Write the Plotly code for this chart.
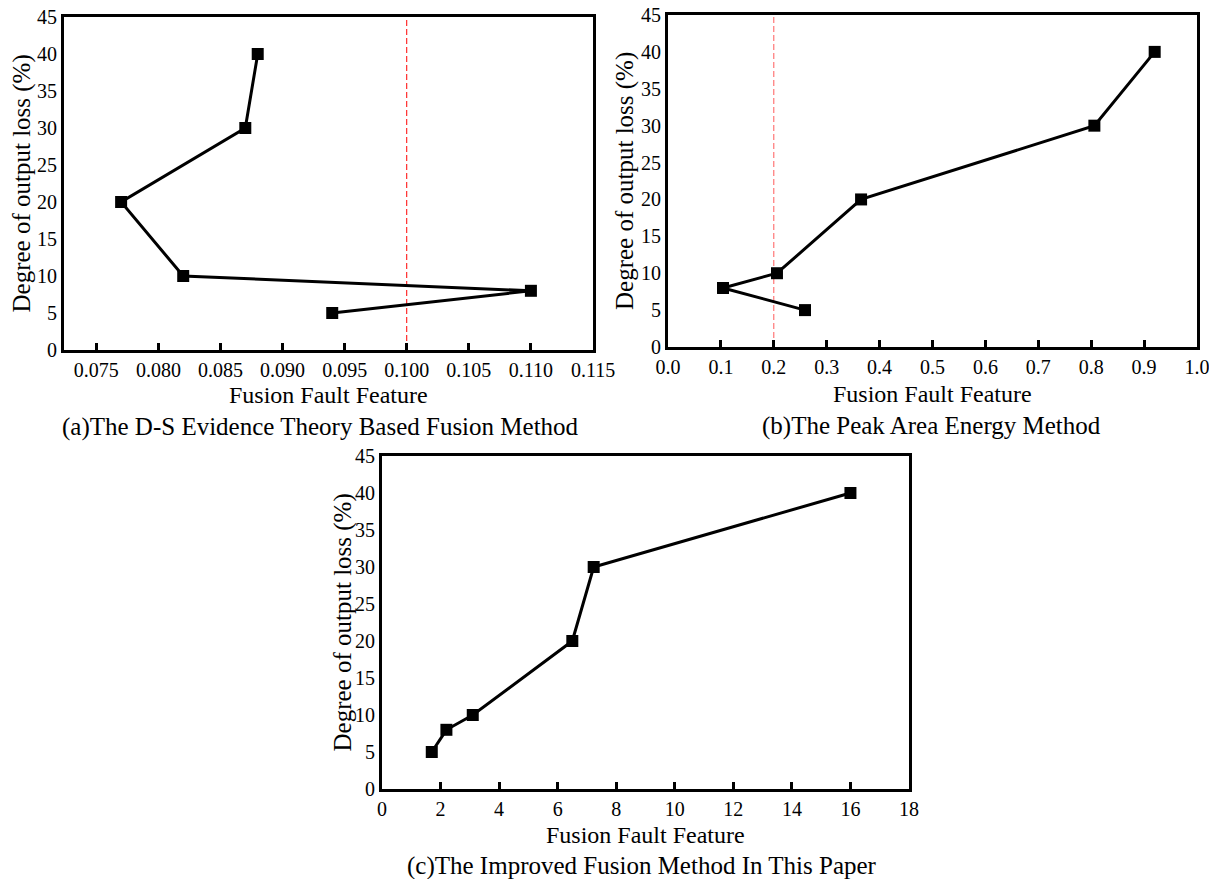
import plotly.graph_objects as go

# ---------------- data ----------------
loss_levels = [40, 30, 20, 10, 8, 5]

ds_feature = [0.088, 0.087, 0.077, 0.082, 0.110, 0.094]
pae_feature = [0.92, 0.806, 0.365, 0.206, 0.104, 0.259]
imp_feature = [16.0, 7.23, 6.5, 3.1, 2.2, 1.7]

ds_threshold = 0.100
pae_threshold = 0.200

ds_xticks = [0.075, 0.080, 0.085, 0.090, 0.095, 0.100, 0.105, 0.110, 0.115]
ds_xtick_text = ["0.075", "0.080", "0.085", "0.090", "0.095", "0.100", "0.105", "0.110", "0.115"]
pae_xticks = [0.0, 0.1, 0.2, 0.3, 0.4, 0.5, 0.6, 0.7, 0.8, 0.9, 1.0]
pae_xtick_text = ["0.0", "0.1", "0.2", "0.3", "0.4", "0.5", "0.6", "0.7", "0.8", "0.9", "1.0"]
imp_xticks = [0, 2, 4, 6, 8, 10, 12, 14, 16, 18]
y_ticks = [0, 5, 10, 15, 20, 25, 30, 35, 40, 45]

x_title = "Fusion Fault Feature"
y_title = "Degree of output loss (%)"
captions = [
    "(a)The D-S Evidence Theory Based Fusion Method",
    "(b)The Peak Area Energy Method",
    "(c)The Improved Fusion Method In This Paper",
]

# ---------------- layout geometry (pixels in the 1217x879 window) ----------------
PAGE_W, PAGE_H = 1217, 879
OFF = 8                      # default page margin around the figure div
W, H = PAGE_W - OFF, PAGE_H - OFF
FONT = "Liberation Serif"


def px_x(p):
    return (p - OFF) / W


def px_y(p):
    return 1 - (p - OFF) / H


panels = [
    dict(l=64, r=593, t=17, b=350, ytx=21, xt_y=395, cap_y=427, cap_x=320),
    dict(l=668, r=1197, t=15, b=347, ytx=625, xt_y=394, cap_y=426, cap_x=931),
    dict(l=382, r=909, t=456, b=789, ytx=342, xt_y=835, cap_y=866, cap_x=642),
]

fig = go.Figure()

series = [ds_feature, pae_feature, imp_feature]
for i, xs in enumerate(series):
    suffix = "" if i == 0 else str(i + 1)
    fig.add_trace(go.Scatter(
        x=xs, y=loss_levels, mode="lines+markers",
        line=dict(color="black", width=3),
        marker=dict(symbol="square", size=12, color="black"),
        xaxis="x" + suffix, yaxis="y" + suffix, showlegend=False,
        cliponaxis=False,
    ))

axis_common = dict(
    showline=True, linecolor="black", linewidth=3, mirror=True,
    showgrid=False, zeroline=False, automargin=False,
    ticklabeloverflow="allow",
    tickfont=dict(family=FONT, size=20, color="black"),
)

x_ranges = [[0.0724, 0.115], [0.0, 1.0], [0, 18]]
x_tickvals = [ds_xticks, pae_xticks, imp_xticks]
x_ticktexts = [ds_xtick_text, pae_xtick_text, [str(v) for v in imp_xticks]]

for i, p in enumerate(panels):
    suffix = "" if i == 0 else str(i + 1)
    xa = dict(axis_common,
              domain=[px_x(p["l"]), px_x(p["r"])],
              range=x_ranges[i],
              tickvals=x_tickvals[i], ticktext=x_ticktexts[i],
              ticks="inside", ticklen=7, tickwidth=3, tickcolor="black",
              anchor="y" + suffix)
    ya = dict(axis_common,
              domain=[px_y(p["b"]), px_y(p["t"])],
              range=[0, 45],
              tickvals=y_ticks,
              ticks="", anchor="x" + suffix)
    fig.layout["xaxis" + suffix] = xa
    fig.layout["yaxis" + suffix] = ya

# threshold lines
fig.add_shape(type="line", xref="x", yref="y domain", x0=ds_threshold, x1=ds_threshold,
              y0=0, y1=1, line=dict(color="red", width=1, dash="6px,3px"), layer="below")
fig.add_shape(type="line", xref="x2", yref="y2 domain", x0=pae_threshold, x1=pae_threshold,
              y0=0, y1=1, line=dict(color="#ff5a5a", width=1, dash="6px,3px"), layer="below")

annotations = []
for i, p in enumerate(panels):
    cx = (p["l"] + p["r"]) / 2
    cy = (p["t"] + p["b"]) / 2
    annotations.append(dict(
        text=x_title, x=px_x(cx), y=px_y(p["xt_y"]), xref="paper", yref="paper",
        xanchor="center", yanchor="middle", showarrow=False,
        font=dict(family=FONT, size=24, color="black")))
    annotations.append(dict(
        text=captions[i], x=px_x(p["cap_x"]), y=px_y(p["cap_y"]), xref="paper", yref="paper",
        xanchor="center", yanchor="middle", showarrow=False,
        font=dict(family=FONT, size=25, color="black")))
    annotations.append(dict(
        text=y_title, x=px_x(p["ytx"]), y=px_y(cy), xref="paper", yref="paper",
        xanchor="center", yanchor="middle", showarrow=False, textangle=-90,
        font=dict(family=FONT, size=25, color="black")))

fig.update_layout(
    width=W, height=H,
    margin=dict(l=0, r=0, t=0, b=0),
    paper_bgcolor="white", plot_bgcolor="white",
    annotations=annotations,
    font=dict(family=FONT, color="black"),
)

fig.write_html("out.html")
